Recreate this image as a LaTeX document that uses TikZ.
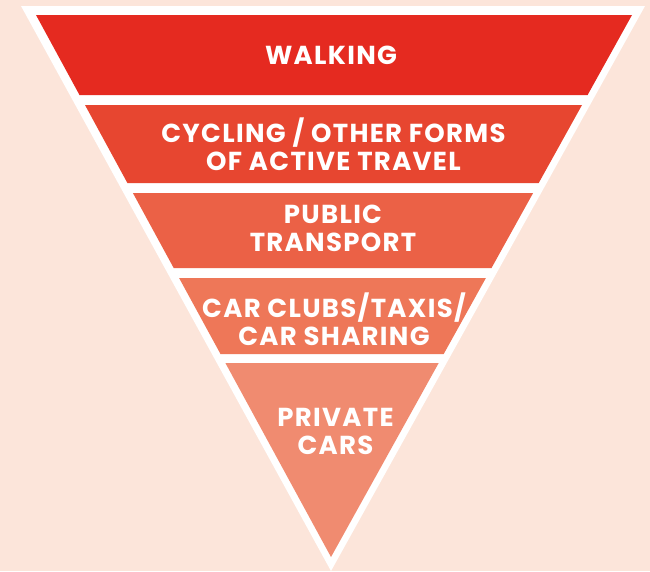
\documentclass[tikz,border=0pt]{standalone}
\usepackage{fontspec}
\setmainfont{Poppins}
\newfontfamily\lblfont{Poppins}[LetterSpace=5]
\definecolor{bgc}{RGB}{252,229,218}
\definecolor{bandA}{RGB}{229,42,32}
\definecolor{bandB}{RGB}{231,70,48}
\definecolor{bandC}{RGB}{235,97,70}
\definecolor{bandD}{RGB}{238,119,88}
\definecolor{bandE}{RGB}{240,139,112}
\tikzset{
  lbl/.style={text=white, align=center, inner sep=0pt, font=\lblfont\bfseries\fontsize{26}{28}\selectfont},
}
\begin{document}
\begin{tikzpicture}[x=1pt,y=-1pt]
\useasboundingbox (0,0) rectangle (650,571);
\fill[bgc] (0,0) rectangle (650,571);
% white outer triangle
\fill[white] (21,6) -- (645,6) -- (331,571) -- cycle;
% bands
\fill[bandA] (36,15) -- (632,15) -- (587.6,95) -- (79.5,95) -- cycle;
\fill[bandB] (85,105) -- (582,105) -- (538.7,183) -- (127.4,183) -- cycle;
\fill[bandC] (132.9,193) -- (533.1,193) -- (491.5,268) -- (173.7,268) -- cycle;
\fill[bandD] (179.1,278) -- (485.9,278) -- (443.7,354) -- (220.5,354) -- cycle;
\fill[bandE] (225.4,363) -- (438.7,363) -- (331,557) -- cycle;
% labels
\node[lbl] (walk) at (331,55.5) {WALKING};
\node[lbl] (cyc) at (333.5,144) {CYCLING / OTHER FORMS\\OF ACTIVE TRAVEL};
\node[lbl] (pub) at (333,228.5) {PUBLIC\\TRANSPORT};
\node[lbl] (car) at (334,319) {CAR CLUBS/TAXIS/\\CAR SHARING};
\node[lbl] (priv) at (335.5,431.5) {PRIVATE\\CARS};
\end{tikzpicture}
\end{document}
